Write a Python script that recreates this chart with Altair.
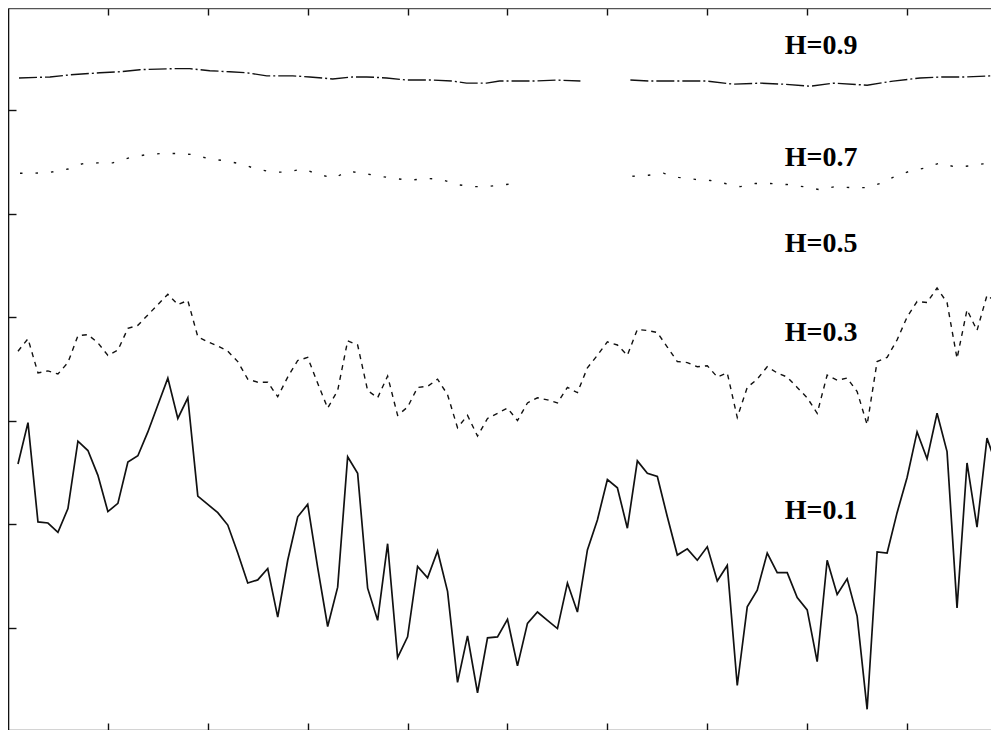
import altair as alt
import pandas as pd

# ---- data ----
X_STEPS = list(range(1, 100))

H01 = [2.58, 2.98, 2.02, 2.01, 1.92, 2.15, 2.80, 2.71, 2.47, 2.12,
       2.20, 2.60, 2.66, 2.89, 3.15, 3.41, 3.02, 3.22, 2.27, 2.19,
       2.11, 1.99, 1.72, 1.43, 1.46, 1.57, 1.10, 1.65, 2.07, 2.19,
       1.58, 1.01, 1.39, 2.65, 2.49, 1.38, 1.07, 1.81, 0.71, 0.91,
       1.59, 1.48, 1.74, 1.35, 0.47, 0.92, 0.37, 0.90, 0.91, 1.08,
       0.63, 1.04, 1.15, 1.07, 0.99, 1.43, 1.15, 1.75, 2.04, 2.43,
       2.35, 1.96, 2.61, 2.49, 2.46, 2.07, 1.70, 1.76, 1.65, 1.78,
       1.45, 1.60, 0.44, 1.20, 1.36, 1.72, 1.53, 1.53, 1.29, 1.17,
       0.67, 1.65, 1.32, 1.47, 1.11, 0.21, 1.73, 1.72, 2.11, 2.45,
       2.89, 2.63, 3.07, 2.70, 1.19, 2.59, 1.97, 2.83, 2.55]

H03 = [3.67, 3.79, 3.46, 3.48, 3.45, 3.56, 3.82, 3.83, 3.75, 3.63,
       3.68, 3.89, 3.92, 4.02, 4.12, 4.22, 4.12, 4.16, 3.81, 3.76,
       3.72, 3.67, 3.57, 3.40, 3.37, 3.37, 3.23, 3.42, 3.58, 3.61,
       3.36, 3.12, 3.29, 3.77, 3.73, 3.29, 3.22, 3.43, 3.05, 3.13,
       3.32, 3.33, 3.40, 3.25, 2.93, 3.05, 2.85, 3.02, 3.07, 3.12,
       3.00, 3.17, 3.22, 3.20, 3.17, 3.32, 3.27, 3.51, 3.63, 3.76,
       3.73, 3.63, 3.88, 3.87, 3.85, 3.71, 3.57, 3.56, 3.52, 3.53,
       3.42, 3.46, 3.03, 3.32, 3.40, 3.52, 3.46, 3.42, 3.32, 3.22,
       3.07, 3.44, 3.39, 3.41, 3.28, 2.96, 3.57, 3.61, 3.78, 4.00,
       4.15, 4.14, 4.28, 4.14, 3.60, 4.07, 3.87, 4.21, 4.14]

H07_X = [1.2, 2.7, 4.3, 6.0, 7.4, 9.0, 10.5, 12.2, 13.9, 15.4,
         17.0, 18.5, 20.1, 21.7, 23.3, 24.9, 26.5, 27.9, 29.5, 31.1,
         32.6, 34.0, 35.5, 37.2, 38.7, 40.2, 41.7, 43.4, 44.9, 46.5,
         47.9, 49.7, 51.3,
         62.5, 64.1, 65.6, 67.1, 68.8, 70.3, 71.8, 73.3, 74.8, 76.3,
         78.0, 79.6, 81.3, 82.8, 84.5, 86.0, 87.3, 88.8, 90.3, 91.8,
         93.3, 94.8, 96.3, 97.6, 99.0]
H07_V = [5.39, 5.39, 5.40, 5.43, 5.48, 5.49, 5.49, 5.54, 5.57, 5.58,
         5.58, 5.57, 5.53, 5.51, 5.48, 5.43, 5.40, 5.40, 5.43, 5.38,
         5.34, 5.41, 5.39, 5.36, 5.34, 5.32, 5.34, 5.33, 5.28, 5.26,
         5.26, 5.28, 5.29,
         5.36, 5.37, 5.39, 5.35, 5.33, 5.32, 5.29, 5.26, 5.29, 5.29,
         5.28, 5.26, 5.23, 5.26, 5.25, 5.25, 5.29, 5.36, 5.41, 5.44,
         5.49, 5.45, 5.46, 5.48, 5.48]
H07_SEG = [0] * 33 + [1] * 25

H09_X = [1.1, 4.2, 6.2, 9.2, 11.2, 13.2, 16.5, 18.2, 20.2, 22.2,
         23.9, 25.9, 28.5, 30.2, 32.5, 34.5, 35.9, 37.9, 39.9, 42.5,
         44.5, 45.9, 47.9, 49.2, 52.6, 54.9, 57.3,
         62.3, 64.3, 67.3, 70.0, 72.6, 75.3, 77.6, 80.3, 82.6, 86.0,
         88.6, 91.3, 93.6, 96.0, 98.3, 99.0]
H09_V = [6.31, 6.32, 6.34, 6.36, 6.37, 6.39, 6.40, 6.40, 6.38, 6.37,
         6.36, 6.33, 6.33, 6.32, 6.30, 6.32, 6.32, 6.31, 6.29, 6.29,
         6.28, 6.26, 6.26, 6.28, 6.28, 6.29, 6.28,
         6.29, 6.28, 6.28, 6.28, 6.25, 6.26, 6.25, 6.23, 6.26, 6.24,
         6.28, 6.31, 6.32, 6.32, 6.33, 6.33]
H09_SEG = [0] * 27 + [1] * 16

LABELS = ["H=0.9", "H=0.7", "H=0.5", "H=0.3", "H=0.1"]
LABEL_X = [81.4, 81.4, 81.4, 81.4, 81.4]
LABEL_Y = [6.62, 5.54, 4.71, 3.85, 2.13]

X_TICKS = [10, 20, 30, 40, 50, 60, 70, 80, 90]
Y_TICKS = [1, 2, 3, 4, 5, 6]

# ---- tables ----
d01 = pd.DataFrame({"x": X_STEPS, "v": H01})
d03 = pd.DataFrame({"x": X_STEPS, "v": H03})
d07 = pd.DataFrame({"x": H07_X, "v": H07_V, "seg": H07_SEG})
d09 = pd.DataFrame({"x": H09_X, "v": H09_V, "seg": H09_SEG})
dlab = pd.DataFrame({"x": LABEL_X, "v": LABEL_Y, "t": LABELS})

xs = alt.Scale(domain=[0, 98.4], nice=False, zero=False)
ys = alt.Scale(domain=[0.01, 6.986], nice=False, zero=False)


def tick_axis(orient, values, size):
    return alt.Axis(orient=orient, values=values, labels=False, domain=False,
                    grid=False, ticks=True, tickSize=size, offset=-size,
                    tickColor="#111", tickWidth=1.4, title=None)


def frame_axis(orient, color, width):
    return alt.Axis(orient=orient, values=[], labels=False, domain=True,
                    domainColor=color, domainWidth=width, grid=False,
                    ticks=False, title=None)


l01 = alt.Chart(d01).mark_line(color="#111", strokeWidth=1.7, clip=True).encode(
    x=alt.X("x:Q", scale=xs, axis=frame_axis("bottom", "#555", 1.3)),
    y=alt.Y("v:Q", scale=ys, axis=frame_axis("left", "#111", 1.6)),
)
l03 = alt.Chart(d03).mark_line(color="#111", strokeWidth=1.4, strokeDash=[5, 5], clip=True).encode(
    x=alt.X("x:Q", scale=xs, axis=tick_axis("bottom", X_TICKS, 7)),
    y=alt.Y("v:Q", scale=ys, axis=tick_axis("left", Y_TICKS, 8)),
)
l07 = alt.Chart(d07).mark_line(color="#111", strokeWidth=1.4, strokeDash=[2.5, 13], clip=True).encode(
    x=alt.X("x:Q", scale=xs, axis=tick_axis("top", X_TICKS, 7)),
    y=alt.Y("v:Q", scale=ys, axis=None),
    detail="seg:N",
)
l09 = alt.Chart(d09).mark_line(color="#111", strokeWidth=1.4, strokeDash=[18, 3, 2, 3], clip=True).encode(
    x=alt.X("x:Q", scale=xs, axis=frame_axis("top", "#555", 1.3)),
    y=alt.Y("v:Q", scale=ys, axis=None),
    detail="seg:N",
)
txt = alt.Chart(dlab).mark_text(font="Times New Roman, Liberation Serif, serif", fontSize=28,
                                fontWeight="bold", color="#000",
                                align="center", baseline="middle").encode(
    x=alt.X("x:Q", scale=xs, axis=None),
    y=alt.Y("v:Q", scale=ys, axis=None),
    text="t:N",
)

chart = alt.layer(l01, l03, l07, l09, txt).resolve_axis(
    x="independent", y="independent"
).properties(
    width=983, height=722, padding=0, autosize=alt.AutoSizeParams(type="none"),
    background="white",
).configure_view(strokeWidth=0)

chart.save("out.html", embed_options={"renderer": "svg", "actions": False})
